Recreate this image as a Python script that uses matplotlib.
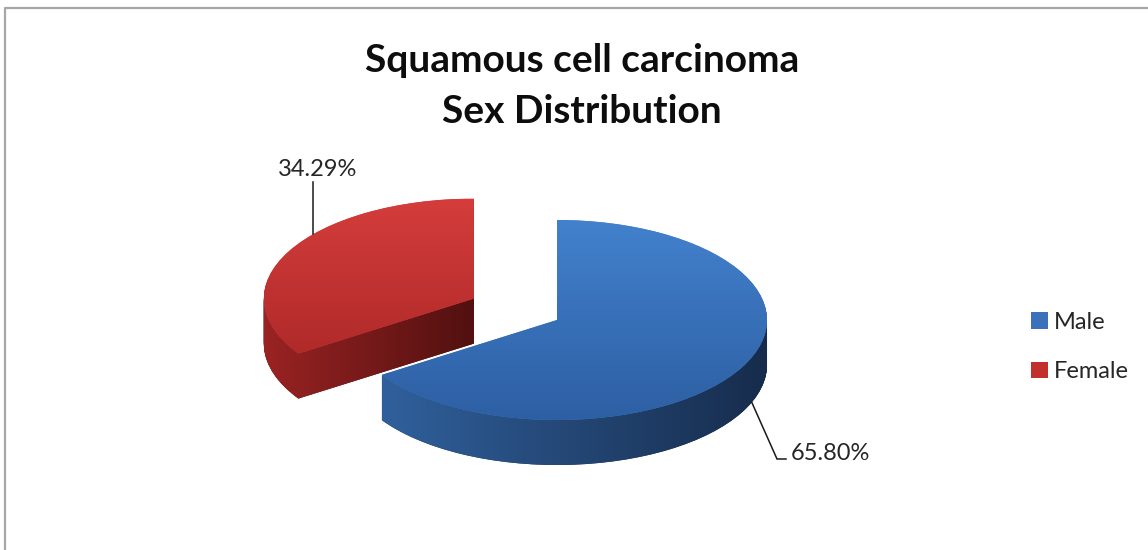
import numpy as np
import matplotlib.pyplot as plt
import matplotlib
from matplotlib.colors import LinearSegmentedColormap
from matplotlib.lines import Line2D
from matplotlib.patches import Patch
from matplotlib.path import Path

matplotlib.rcParams['font.family'] = ['Lato', 'DejaVu Sans']

# ---- data ----
title_lines = ['Squamous cell carcinoma', 'Sex Distribution']
labels = ['Male', 'Female']
shares = [65.80, 34.29]
share_text = ['65.80%', '34.29%']
explode = [0.0, 0.45]

# colours (top face gradient, side gradient, legend)
top_light = ['#4381cd', '#d43d3b']
top_dark = ['#2d5fa3', '#b02a2a']
side_light = ['#30609c', '#9a2323']
side_dark = ['#172c4c', '#521010']
legend_cols = ['#3a71ba', '#c2302e']

W, H = 1148, 550
fig = plt.figure(figsize=(W / 100, H / 100), dpi=100)

# pie axes sized so that one unit is rx pixels wide and ry pixels high
cx, cy, rx, ry = 557, 320, 210, 100
xlim = (-1.6, 1.6)
ylim = (-1.9, 1.6)
ax = fig.add_axes([(cx + xlim[0] * rx) / W, (H - cy + ylim[0] * ry) / H,
                   (xlim[1] - xlim[0]) * rx / W, (ylim[1] - ylim[0]) * ry / H])

depth = 0.45
n_layers = 45


def grad_image(path, c_from, c_to, vertical):
    b = path.get_extents()
    g = np.linspace(0, 1, 256)
    img = g.reshape(-1, 1) if vertical else g.reshape(1, -1)
    cmap = LinearSegmentedColormap.from_list('g', [c_from, c_to])
    im = ax.imshow(img, cmap=cmap, extent=[b.x0, b.x1, b.y0, b.y1],
                   origin='lower', aspect='auto', interpolation='bilinear',
                   zorder=1)
    im.set_clip_path(path, ax.transData)


# side of the 3d pie: stacked copies shifted down, then one gradient per slice
side_paths = [[] for _ in shares]
for k in range(n_layers, 0, -1):
    ws, _ = ax.pie(shares, explode=explode, startangle=90, counterclock=False,
                   center=(0, -depth * k / n_layers), colors=side_dark,
                   wedgeprops=dict(linewidth=0))
    for i, w in enumerate(ws):
        side_paths[i].append(w.get_path())
for i, paths in enumerate(side_paths):
    grad_image(Path.make_compound_path(*paths), side_light[i], side_dark[i],
               vertical=False)

# top face
top_wedges, _ = ax.pie(shares, explode=explode, startangle=90, counterclock=False,
                       colors=top_light, wedgeprops=dict(linewidth=0))
for i, w in enumerate(top_wedges):
    grad_image(w.get_path(), top_dark[i], top_light[i], vertical=True)

ax.set_aspect('auto')
ax.set_xlim(xlim)
ax.set_ylim(ylim)
ax.axis('off')


def ux(px):
    return (px - cx) / rx


def uy(py):
    return (cy - py) / ry


def rim_point(w, frac, drop=0.0):
    a = np.deg2rad(w.theta1 + frac * (w.theta2 - w.theta1))
    return w.center[0] + w.r * np.cos(a), w.center[1] + w.r * np.sin(a) - drop


txt_col = '#262626'
# Male label (bottom right)
mx, my = rim_point(top_wedges[0], 0.527, depth)
ax.plot([mx, ux(777), ux(786)], [my, uy(459), uy(459)], color='#1a1a1a', lw=1.1,
        solid_joinstyle='miter', zorder=3)
ax.text(ux(791), uy(460), share_text[0], fontsize=17, color=txt_col,
        ha='left', va='baseline', zorder=3)

# Female label (top left)
fx, fy = rim_point(top_wedges[1], 0.405)
ax.plot([fx, fx], [fy, uy(182)], color='#1a1a1a', lw=1.1, zorder=3)
ax.text(fx + 0.02, uy(176), share_text[1], fontsize=17, color=txt_col,
        ha='center', va='baseline', zorder=3)

# title
fig.text(582 / W, 1 - 72 / H, title_lines[0], fontsize=28, fontweight='bold',
         ha='center', va='baseline', color='#0d0d0d')
fig.text(582 / W, 1 - 123 / H, title_lines[1], fontsize=28, fontweight='bold',
         ha='center', va='baseline', color='#0d0d0d')

# legend
handles = [Patch(facecolor=c, edgecolor='none', label=l)
           for c, l in zip(legend_cols, labels)]
fig.legend(handles=handles, loc='center left',
           bbox_to_anchor=(1010 / W, 1 - 347 / H), frameon=False,
           fontsize=17, handlelength=0.7, handleheight=0.7,
           handletextpad=0.25, labelspacing=1.2, labelcolor=txt_col)

# chart area border (top and left edge visible)
fig.add_artist(Line2D([5 / W, 5 / W, 1], [0, 1 - 8 / H, 1 - 8 / H],
                      transform=fig.transFigure, color='#a6a6a6', lw=1.6))

fig.savefig('out.png', dpi=100)
